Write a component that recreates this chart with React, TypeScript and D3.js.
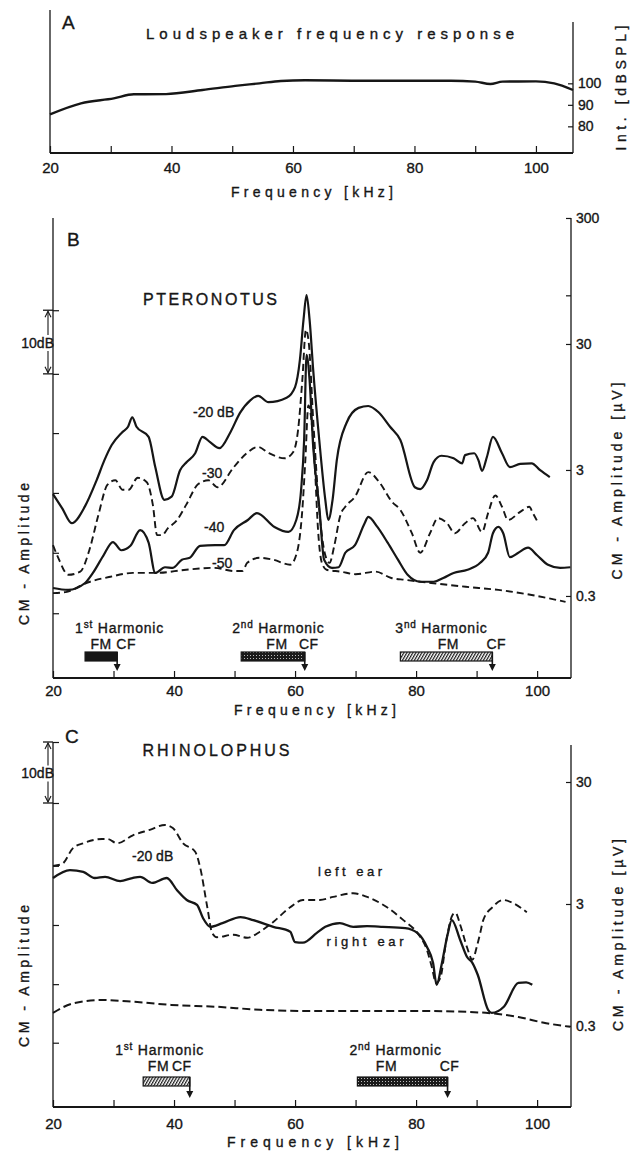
import React, { useEffect, useRef } from 'react';
import * as d3 from 'd3';

type Pt = [number, number];
type Harmonic = { n: string; sup: string; fm: number; cf: number; fill: string };

// Panel A: loudspeaker output  [kHz, dB SPL]
const speakerCurve: Pt[] = [
  [20, 85.6], [25.1, 90.7], [30.5, 93.0], [33.8, 94.9], [39.1, 95.0], [45.1, 96.9],
  [50.5, 98.8], [54.5, 100], [58, 101.1], [62, 101.4], [70, 101.2], [80, 101.2],
  [86, 101.2], [90, 100.8], [92.5, 99.7], [94.5, 100.8], [100, 100.9], [103, 100], [106.1, 96.9],
];
const speakerTicks = [100, 90, 80];

// Panel B: Pteronotus CM amplitude  [kHz, dB re 1 uV]
const ptero20: Pt[] = [
  [20, 5.7], [21.5, 3.5], [23.1, 1.1], [25.3, 3.8], [27.2, 7.9], [28.5, 11.1], [29.7, 13.5],
  [31.4, 15.5], [32.4, 16.4], [33.1, 17.9], [33.8, 16.4], [35.8, 14.8], [36.9, 10.0], [38.4, 4.8],
  [39.6, 5.3], [41.0, 9.5], [42.1, 10.8], [43.5, 12.2], [44.7, 14.8], [45.9, 14.0], [47.5, 13.0],
  [49.3, 15.5], [50.9, 18.6], [52.6, 20.6], [53.9, 21.3], [55.6, 20.3], [58.6, 21.0], [60.0, 22.7],
  [60.8, 27.0], [61.4, 33.4], [61.9, 37.3], [62.4, 33.4], [63.0, 25.4], [64.0, 14.3], [65.0, 4.8],
  [65.5, 1.6], [66.2, 4.8], [66.9, 11.1], [68.5, 17.0], [70.5, 19.4], [72.1, 19.7], [73.8, 18.7],
  [75.7, 16.4], [77.4, 14.3], [79.8, 6.8], [80.7, 6.5], [81.8, 7.9], [82.9, 10.8], [84.2, 11.8],
  [86.2, 11.4], [87.6, 10.6], [88.1, 11.9], [89.6, 12.2], [90.3, 11.1], [90.9, 9.4], [91.7, 11.6],
  [92.7, 14.8], [94.2, 12.2], [95.5, 10.0], [97.2, 10.5], [99.1, 10.6], [100.5, 9.5], [102.1, 8.4],
];
const ptero30: Pt[] = [
  [20, -2.4], [21, -4.7], [22.5, -7.1], [24.5, -6.6], [26, -3.2], [27.5, 2.4], [29, 7.2],
  [30.3, 7.9], [31.5, 6.4], [32.5, 6.4], [34, 8.3], [35.5, 7.6], [36.5, 4.0], [37.2, -0.8],
  [38, -0.8], [39, 0.3], [40.5, 1.6], [42, 4.0], [44, 7.3], [45.7, 7.9], [47.2, 6.8], [49.8, 9.9],
  [52, 12.2], [53.9, 13.2], [55.7, 12.2], [58.3, 11.4], [59.7, 12.4], [60.5, 15.9], [61.2, 23.8],
  [61.8, 31.8], [62.3, 29.4], [63, 17.5], [64, 3.2], [65, -4.0], [65.7, -5.2], [66.5, -2.4],
  [67.5, 2.4], [68.3, 3.7], [69.9, 5.3], [72.1, 9.2], [74, 7.5], [76, 4.5], [77.4, 3.2],
  [79.3, -0.5], [80.7, -3.6], [82.3, -0.5], [83.6, 1.9], [85.1, 1.1], [86.4, -0.5], [88.1, 1.1],
  [89.4, 1.9], [90.9, -0.3], [91.9, 2.7], [93.1, 5.5], [94.2, 3.7], [95.2, 1.6], [97.2, 2.9],
  [98.7, 3.7], [99.3, 2.7], [100.2, 1.1],
];
const ptero40: Pt[] = [
  [20, -9.2], [22.5, -9.5], [25.3, -8.4], [26.6, -6.8], [28.3, -4.1], [29.9, -1.9], [31.3, -3.2],
  [32.8, -2.5], [34.4, 0.0], [35.8, -2.0], [36.9, -6.8], [38.5, -5.9], [39.8, -6.0], [41.3, -4.7],
  [42.6, -4.4], [44.3, -2.5], [46.8, -2.4], [48.3, -2.4], [49.9, 0.0], [52.2, 1.6], [53.7, 2.7],
  [56.6, 0.5], [58.9, -0.3], [60.2, 1.6], [61.0, 6.4], [61.5, 14.3], [61.9, 27.8], [62.4, 23.8],
  [63.0, 13.2], [64.0, 3.7], [64.8, -4.7], [66.1, -6.0], [67.2, -5.9], [68.3, -3.6], [69.9, -2.4],
  [71.5, 1.1], [72.1, 2.1], [73.6, 0.5], [75.3, -2.0], [77, -4.7], [78.6, -7.1], [80.7, -8.2],
  [82.9, -8.2], [84.5, -7.6], [86.2, -6.8], [88.5, -6.3], [90.6, -5.2], [91.9, -3.6], [92.7, -0.5],
  [93.6, 0.5], [94.4, -0.5], [95.5, -4.3], [96.9, -3.6], [98.5, -2.8], [100, -4.0], [101.8, -5.5],
  [103.8, -6.0], [105.5, -5.9],
];
const ptero50: Pt[] = [
  [20, -10.0], [22.3, -9.8], [25.5, -8.4], [29.5, -7.4], [33.2, -6.8], [37, -6.8], [42, -6.3],
  [46.5, -6.0], [50, -6.5], [51.3, -6.5], [52.1, -5.2], [54.2, -4.4], [56.4, -4.7], [59.2, -5.5],
  [60.3, -3.6], [61.2, 3.2], [61.7, 11.1], [62.2, 19.8], [62.7, 17.5], [63.3, 9.5], [63.8, 0.0],
  [64.4, -5.1], [65.2, -6.3], [67.6, -6.6], [70, -7.0], [73.3, -6.6], [75.9, -7.6], [78.2, -7.9],
  [82.5, -8.4], [88.2, -9.0], [93.6, -9.5], [99.1, -10.3], [104.7, -11.4],
];
const pteroRightTicks = [300, 73, 30, 3, 0.3]; // uV
const pteroRightLabels = ['300', '', '30', '3', '0.3'];
const pteroLeftTicks = [34.9, 24.8, 15.4, 5.9, -3.6, -13.2]; // dB re 1 uV
const pteroHarmonics: Harmonic[] = [
  { n: '1', sup: 'st', fm: 25.3, cf: 30.6, fill: 'solid' },
  { n: '2', sup: 'nd', fm: 51.1, cf: 61.6, fill: 'stipple' },
  { n: '3', sup: 'nd', fm: 77.4, cf: 92.6, fill: 'hatch' },
];

// Panel C: Rhinolophus, -20 dB  [kHz, dB re 1 uV]
const rhinoLeft: Pt[] = [
  [20, 15.8], [21.5, 16.1], [23.3, 18.7], [25.0, 19.5], [28.1, 20.2], [29.0, 20.2], [30.6, 19.5],
  [33.2, 20.8], [36.0, 21.7], [38.5, 22.5], [39.8, 22.0], [41.5, 19.5], [43.5, 18.1], [44.3, 15.6],
  [45.5, 9.0], [46.3, 4.8], [47.1, 4.1], [49.8, 4.5], [52.1, 4.0], [54.2, 5.0], [56.4, 6.6],
  [59.2, 9.0], [61.3, 10.2], [64.1, 10.2], [66.3, 10.7], [69.6, 11.3], [71.9, 10.7], [75.2, 9.0],
  [77.9, 6.9], [80.2, 4.8], [81.8, 2.0], [82.6, -0.8], [83.3, -3.4], [84.0, -2.6], [85.0, 3.6],
  [86.0, 7.7], [86.5, 8.1], [87.3, 6.1], [88.4, 2.5], [89.3, 0.4], [90.1, 2.8], [90.6, 4.8],
  [91.1, 6.9], [92.6, 9.0], [94.4, 10.2], [96.0, 9.7], [98.3, 8.2],
];
const rhinoRight: Pt[] = [
  [20, 13.8], [22.8, 15.1], [25.0, 14.8], [26.9, 13.8], [28.6, 14.0], [31.1, 13.3], [33.1, 13.8],
  [34.4, 14.0], [36.4, 13.0], [38.8, 13.8], [40.5, 11.8], [42.1, 10.2], [43.8, 9.4], [44.8, 7.2],
  [46.0, 5.8], [48.0, 6.4], [51.0, 7.4], [53.1, 6.9], [56.4, 5.8], [59.2, 5.0], [60.0, 3.3],
  [61.3, 3.2], [63.6, 4.8], [65.0, 5.8], [67.4, 6.4], [69.6, 5.8], [71.9, 5.9], [74.5, 5.8],
  [78.2, 5.6], [80.2, 4.8], [81.8, 2.5], [82.8, -0.1], [83.4, -3.7], [84.2, -0.5], [85.2, 4.5],
  [85.9, 6.9], [87.3, 3.6], [88.4, 0.9], [89.3, -0.1], [90.2, -2.1], [91.9, -7.8], [92.5, -8.3],
  [94.5, -7.3], [96.9, -3.4], [98.2, -3.3], [99.2, -3.7],
];
const rhinoFloor: Pt[] = [
  [20, -8.3], [23.5, -6.7], [28.2, -6.2], [33.5, -6.5], [39.5, -7.0], [46.9, -7.3], [54.2, -7.8],
  [62.2, -8.0], [71.5, -8.0], [81.5, -8.0], [91.5, -8.3], [96.9, -9.0], [101.5, -10.0], [105.5, -10.6],
];
const rhinoRightTicks = [30, 3, 0.3]; // uV
const rhinoRightLabels = ['30', '3', '0.3'];
const rhinoLeftTicks = [36.1, 26.1, 15.8, 6.1, -3.6, -13.2];
const rhinoHarmonics: Harmonic[] = [
  { n: '1', sup: 'st', fm: 34.9, cf: 42.6, fill: 'hatch' },
  { n: '2', sup: 'nd', fm: 70.3, cf: 85.2, fill: 'stipple' },
];

const freqTicks = [20, 30, 40, 50, 60, 70, 80, 90, 100];
const freqLabels = [20, 40, 60, 80, 100];

const FONT = "'Liberation Sans', Arial, sans-serif";
const INK = '#161616';
const toDb = (uv: number) => 20 * Math.log10(uv);

const App: React.FC = () => {
  const svgRef = useRef<SVGSVGElement>(null);

  useEffect(() => {
    if (!svgRef.current) return;
    const svg = d3.select(svgRef.current);
    svg.selectAll('*').remove();

    // fill patterns for the call-component bars
    const defs = svg.append('defs');
    const stip = defs.append('pattern').attr('id', 'stipple')
      .attr('width', 3).attr('height', 3).attr('patternUnits', 'userSpaceOnUse');
    stip.append('rect').attr('width', 3).attr('height', 3).attr('fill', '#1a1a1a');
    stip.append('rect').attr('x', 1).attr('y', 1).attr('width', 1).attr('height', 1).attr('fill', '#bbb');
    const hatch = defs.append('pattern').attr('id', 'hatch')
      .attr('width', 3).attr('height', 10).attr('patternUnits', 'userSpaceOnUse')
      .attr('patternTransform', 'skewX(-30)');
    hatch.append('rect').attr('width', 3).attr('height', 10).attr('fill', '#fff');
    hatch.append('rect').attr('width', 1.4).attr('height', 10).attr('fill', '#1a1a1a');

    const text = (x: number, y: number, s: string, size = 14, anchor = 'start', len = 0, rotate = false) => {
      const t = svg.append('text')
        .attr('font-family', FONT).attr('font-size', size).attr('fill', INK)
        .attr('stroke', INK).attr('stroke-width', 0.35)
        .attr('text-anchor', anchor);
      if (rotate) t.attr('transform', `translate(${x},${y}) rotate(-90)`).attr('dominant-baseline', 'central');
      else t.attr('x', x).attr('y', y);
      if (len) t.attr('textLength', len).attr('lengthAdjust', 'spacing');
      t.text(s);
      return t;
    };

    const seg = (x1: number, y1: number, x2: number, y2: number, w = 1.3) =>
      svg.append('line').attr('x1', x1).attr('y1', y1).attr('x2', x2).attr('y2', y2)
        .attr('stroke', INK).attr('stroke-width', w);

    const styleAxis = (g: any, size = 15) => {
      g.select('.domain').remove();
      g.selectAll('line').attr('stroke', INK).attr('stroke-width', 1.2);
      g.selectAll('text').attr('fill', INK).attr('font-family', FONT).attr('font-size', size)
        .attr('stroke', INK).attr('stroke-width', 0.35);
    };

    const bottomAxis = (x: d3.ScaleLinear<number, number>, y0: number, pad: number) => {
      svg.append('g').attr('transform', `translate(0,${y0})`)
        .call(d3.axisBottom(x).tickValues(freqTicks).tickSizeInner(-7).tickSizeOuter(0).tickPadding(pad)
          .tickFormat((d) => (freqLabels.includes(+d) ? String(d) : '')))
        .call((g) => styleAxis(g));
    };

    const rightAxis = (y: d3.ScaleLinear<number, number>, x0: number, values: number[], labels: string[]) => {
      svg.append('g').attr('transform', `translate(${x0},0)`)
        .call(d3.axisRight(y).tickValues(values).tickSizeInner(-5).tickSizeOuter(0).tickPadding(5)
          .tickFormat((_, i) => labels[i]))
        .call((g) => styleAxis(g, 14));
    };

    const leftAxis = (y: d3.ScaleLinear<number, number>, x0: number, values: number[]) => {
      svg.append('g').attr('transform', `translate(${x0},0)`)
        .call(d3.axisLeft(y).tickValues(values).tickSizeInner(-6).tickSizeOuter(0).tickFormat(() => ''))
        .call((g) => styleAxis(g));
    };

    const curve = (x: d3.ScaleLinear<number, number>, y: d3.ScaleLinear<number, number>, data: Pt[], dash: string | null, w: number) => {
      const line = d3.line<Pt>().x((d) => x(d[0])).y((d) => y(d[1])).curve(d3.curveMonotoneX);
      svg.append('path').datum(data).attr('d', line).attr('fill', 'none')
        .attr('stroke', INK).attr('stroke-width', w).attr('stroke-linejoin', 'round')
        .attr('stroke-dasharray', dash ?? 'none');
    };

    // 10 dB bracket on the left axis
    const bracket = (yTop: number, yBot: number, xAxis: number) => {
      const xa = xAxis - 5;
      seg(xAxis - 10, yTop, xAxis, yTop);
      seg(xAxis - 10, yBot, xAxis, yBot);
      const mid = (yTop + yBot) / 2;
      seg(xa, yTop + 1, xa, mid - 7, 1.1);
      seg(xa, mid + 9, xa, yBot - 1, 1.1);
      svg.append('path').attr('d', `M${xa - 3},${yTop + 7}L${xa},${yTop + 1}L${xa + 3},${yTop + 7}`)
        .attr('fill', 'none').attr('stroke', INK).attr('stroke-width', 1.1);
      svg.append('path').attr('d', `M${xa - 3},${yBot - 7}L${xa},${yBot - 1}L${xa + 3},${yBot - 7}`)
        .attr('fill', 'none').attr('stroke', INK).attr('stroke-width', 1.1);
      text(xAxis + 1, mid + 6, '10dB', 14, 'end');
    };

    const harmonics = (
      x: d3.ScaleLinear<number, number>, list: Harmonic[], headY: number, barTop: number, tipY: number,
      headShift: number[], fmShift: number[], cfShift: number[],
    ) => {
      list.forEach((h, i) => {
        const x0 = x(h.fm);
        const x1 = x(h.cf);
        const t = svg.append('text').attr('x', x0 + headShift[i]).attr('y', headY)
          .attr('font-family', FONT).attr('font-size', 14).attr('fill', INK)
          .attr('stroke', INK).attr('stroke-width', 0.35).attr('letter-spacing', 0.8);
        t.append('tspan').text(h.n);
        t.append('tspan').attr('font-size', 10).attr('dy', -5).text(h.sup);
        t.append('tspan').attr('dy', 5).text(' Harmonic');
        text((x0 + x1) / 2 + fmShift[i], headY + 16, 'FM', 14, 'middle').attr('letter-spacing', 0.5);
        text(x1 + cfShift[i], headY + 16, 'CF', 14, 'middle').attr('letter-spacing', 0.5);
        svg.append('rect').attr('x', x0).attr('y', barTop).attr('width', x1 - x0).attr('height', 9)
          .attr('fill', h.fill === 'solid' ? INK : `url(#${h.fill})`)
          .attr('stroke', INK).attr('stroke-width', 1.2);
        seg(x1, barTop, x1, tipY - 5, 1.6);
        svg.append('path').attr('d', `M${x1 - 3.5},${tipY - 7}L${x1 + 3.5},${tipY - 7}L${x1},${tipY}Z`).attr('fill', INK);
      });
    };

    // ---------------- Panel A ----------------
    const xA = d3.scaleLinear().domain([20, 106.1]).range([50, 573]);
    const yA = d3.scaleLinear().domain([67.6, 134.1]).range([153, 10]);
    curve(xA, yA, speakerCurve, null, 2.4);
    seg(50, 10, 50, 153);
    seg(573, 22, 573, 153);
    seg(50, 153, 573, 153, 1.8);
    bottomAxis(xA, 153, 9);
    rightAxis(yA, 573, speakerTicks, speakerTicks.map(String));
    text(62, 29, 'A', 19);
    text(330, 39, 'Loudspeaker frequency response', 15, 'middle', 368);
    text(312, 197, 'Frequency  [kHz]', 14, 'middle', 162);
    text(621, 88, 'Int.   [dBSPL]', 14, 'middle', 125, true);

    // ---------------- Panel B ----------------
    const xB = d3.scaleLinear().domain([20, 105.6]).range([53, 571]);
    const yB = d3.scaleLinear().domain([-23.48, 49.54]).range([678, 218]);
    curve(xB, yB, ptero50, '7,4', 1.9);
    curve(xB, yB, ptero40, null, 2.2);
    curve(xB, yB, ptero30, '7,4', 1.9);
    curve(xB, yB, ptero20, null, 2.2);
    seg(53, 218, 53, 678);
    seg(571, 218, 571, 678);
    seg(53, 678, 571, 678, 1.8);
    bottomAxis(xB, 678, 7);
    leftAxis(yB, 53, pteroLeftTicks);
    rightAxis(yB, 571, pteroRightTicks.map(toDb), pteroRightLabels);
    bracket(yB(pteroLeftTicks[0]), yB(pteroLeftTicks[1]), 53);
    text(67, 246, 'B', 19);
    text(210, 305, 'PTERONOTUS', 16, 'middle', 134);
    text(193, 417, '-20 dB', 14);
    text(202, 478, '-30', 14);
    text(204, 532, '-40', 14);
    text(212, 568, '-50', 14);
    harmonics(xB, pteroHarmonics, 633, 652, 671, [-10, -9, -5], [0, 4, 2], [9, 4, 4]);
    text(315, 715, 'Frequency  [kHz]', 14, 'middle', 162);
    text(24, 554, 'CM - Amplitude', 14, 'middle', 142, true);
    text(617, 481, 'CM - Amplitude    [\u00b5V]', 14, 'middle', 197, true);

    // ---------------- Panel C ----------------
    const xC = d3.scaleLinear().domain([20, 105.6]).range([53, 571]);
    const yC = d3.scaleLinear().domain([-23.74, 36.1]).range([1107, 742]);
    curve(xC, yC, rhinoFloor, '8,4', 2);
    curve(xC, yC, rhinoLeft, '7,4', 1.9);
    curve(xC, yC, rhinoRight, null, 2.3);
    seg(53, 742, 53, 1107);
    seg(571, 745, 571, 1107);
    seg(53, 1107, 571, 1107, 1.8);
    bottomAxis(xC, 1107, 11);
    leftAxis(yC, 53, rhinoLeftTicks);
    rightAxis(yC, 571, rhinoRightTicks.map(toDb), rhinoRightLabels);
    bracket(yC(rhinoLeftTicks[0]), yC(rhinoLeftTicks[1]), 53);
    text(65, 743, 'C', 19);
    text(216, 756, 'RHINOLOPHUS', 16, 'middle', 147);
    text(132, 861, '-20 dB', 14);
    text(350, 876, 'left ear', 13, 'middle', 64);
    text(365, 946, 'right ear', 13, 'middle', 77);
    harmonics(xC, rhinoHarmonics, 1055, 1077, 1098, [-28, -8], [-8, -16], [-8, 2]);
    text(313, 1147, 'Frequency  [kHz]', 14, 'middle', 172);
    text(24, 976, 'CM - Amplitude', 14, 'middle', 142, true);
    text(618, 935, 'CM - Amplitude    [\u00b5V]', 14, 'middle', 192, true);
  }, []);

  return (
    <svg
      ref={svgRef}
      width={634}
      height={1155}
      style={{ position: 'absolute', left: 0, top: 0, background: '#fff' }}
    />
  );
};

export default App;
